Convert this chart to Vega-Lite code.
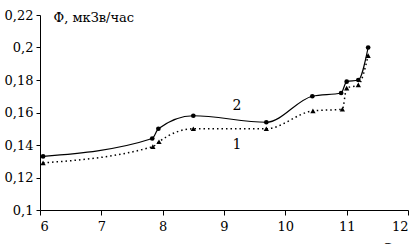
{
  "$schema": "https://vega.github.io/schema/vega-lite/v6.json",
  "width": 368,
  "height": 195,
  "autosize": {"type": "none"},
  "padding": {"left": 40, "top": 15, "right": 10, "bottom": 34},
  "background": "white",
  "config": {
    "view": {"stroke": null},
    "font": "DejaVu Serif",
    "axis": {"grid": false, "domainColor": "black", "tickColor": "black", "labelColor": "black", "labelFont": "DejaVu Serif", "labelFontSize": 13, "titleFont": "DejaVu Serif", "titleFontWeight": "normal", "titleFontSize": 13, "titleColor": "black", "domainWidth": 1, "tickWidth": 1}
  },
  "datasets": {
    "pts": [
      {"t": 6.05, "phi": 0.133, "s": "2"},
      {"t": 7.83, "phi": 0.144, "s": "2"},
      {"t": 7.93, "phi": 0.150, "s": "2"},
      {"t": 8.5, "phi": 0.158, "s": "2"},
      {"t": 9.69, "phi": 0.154, "s": "2"},
      {"t": 10.44, "phi": 0.170, "s": "2"},
      {"t": 10.91, "phi": 0.172, "s": "2"},
      {"t": 11.0, "phi": 0.179, "s": "2"},
      {"t": 11.19, "phi": 0.180, "s": "2"},
      {"t": 11.35, "phi": 0.200, "s": "2"},
      {"t": 6.05, "phi": 0.129, "s": "1"},
      {"t": 7.84, "phi": 0.139, "s": "1"},
      {"t": 7.94, "phi": 0.142, "s": "1"},
      {"t": 8.5, "phi": 0.150, "s": "1"},
      {"t": 9.69, "phi": 0.150, "s": "1"},
      {"t": 10.45, "phi": 0.161, "s": "1"},
      {"t": 10.93, "phi": 0.162, "s": "1"},
      {"t": 11.0, "phi": 0.175, "s": "1"},
      {"t": 11.19, "phi": 0.177, "s": "1"},
      {"t": 11.35, "phi": 0.195, "s": "1"}
    ],
    "labels": [
      {"t": 9.21, "phi": 0.164, "txt": "2"},
      {"t": 9.21, "phi": 0.140, "txt": "1"}
    ]
  },
  "data": {"name": "pts"},
  "encoding": {
    "x": {"field": "t", "type": "quantitative", "scale": {"domain": [6, 12], "nice": false, "zero": false},
      "axis": {"values": [6, 7, 8, 9, 10, 11, 12], "tickSize": 5, "labelPadding": 5, "title": "t, ⁰C", "titleAlign": "left", "titleBaseline": "alphabetic", "titleX": 323, "titleY": 42}},
    "y": {"field": "phi", "type": "quantitative", "scale": {"domain": [0.1, 0.22], "nice": false, "zero": false},
      "axis": {"values": [0.1, 0.12, 0.14, 0.16, 0.18, 0.2, 0.22], "tickSize": 4, "labelPadding": 3, "labelExpr": "replace(format(datum.value, '.2~f'), '.', ',')", "title": "Φ, мкЗв/час", "titleAngle": 0, "titleAlign": "left", "titleBaseline": "alphabetic", "titleX": 13, "titleY": 6}}
  },
  "layer": [
    {"transform": [{"filter": "datum.s == '2'"}], "mark": {"type": "line", "color": "black", "strokeWidth": 1.2, "interpolate": "monotone"}},
    {"transform": [{"filter": "datum.s == '1'"}], "mark": {"type": "line", "color": "black", "strokeWidth": 1.5, "strokeDash": [1.5, 3], "interpolate": "monotone"}},
    {"transform": [{"filter": "datum.s == '2'"}], "mark": {"type": "point", "shape": "circle", "filled": true, "color": "black", "opacity": 1, "size": 22}},
    {"transform": [{"filter": "datum.s == '1'"}], "mark": {"type": "point", "shape": "triangle-up", "filled": true, "color": "black", "opacity": 1, "size": 28}},
    {"data": {"name": "labels"}, "mark": {"type": "text", "fontSize": 14, "font": "DejaVu Serif", "color": "black"}, "encoding": {"text": {"field": "txt"}}}
  ]
}
